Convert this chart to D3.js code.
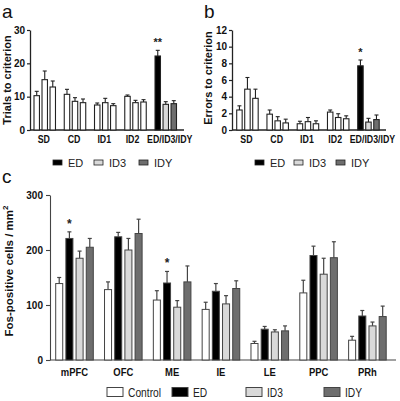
<!DOCTYPE html>
<html><head><meta charset="utf-8">
<script src="https://cdn.jsdelivr.net/npm/d3@7"></script>
<style>body{margin:0;background:#fff}svg{display:block}text{font-family:"Liberation Sans",Arial,sans-serif}</style>
</head><body>
<svg id="chart" width="400" height="401"></svg>
<script>
// ---- data ----
const stagesAB = ["SD", "CD", "ID1", "ID2", "ED/ID3/IDY"];
const trialsMean = [[10.3, 15.1, 12.9], [10.7, 8.6, 8.2], [7.5, 8.2, 7.3], [10.1, 8.2, 8.4], [22.2, 7.7, 7.9]];
const trialsErr  = [[1.3, 2.6, 1.8], [1.5, 1.1, 1.1], [0.6, 1.3, 0.6], [0.4, 0.7, 0.7], [1.7, 0.8, 0.9]];
const errorsMean = [[2.4, 4.9, 3.8], [1.9, 1.1, 0.85], [0.75, 1.0, 0.75], [2.15, 1.5, 1.35], [7.7, 0.95, 1.25]];
const errorsErr  = [[0.5, 1.4, 1.1], [0.5, 0.5, 0.45], [0.3, 0.5, 0.35], [0.25, 0.45, 0.35], [0.7, 0.45, 0.55]];
const trialsTicks = [0, 10, 20, 30];
const errorsTicks = [0, 2, 4, 6, 8, 10, 12];
const legendAB = ["ED", "ID3", "IDY"];

const regions = ["mPFC", "OFC", "ME", "IE", "LE", "PPC", "PRh"];
const groupsC = ["Control", "ED", "ID3", "IDY"];
const fosControl = [139, 128, 109, 92, 30, 122, 36];
const fosED      = [221, 224, 140, 125, 56, 190, 80];
const fosID3     = [185, 200, 96, 102, 51, 156, 62];
const fosIDY     = [205, 230, 142, 130, 53, 186, 79];
const fosControlErr = [11, 14, 17, 13, 4, 23, 7];
const fosEDErr      = [12, 8, 21, 14, 5, 17, 10];
const fosID3Err     = [13, 21, 12, 15, 4, 29, 7];
const fosIDYErr     = [16, 26, 29, 14, 9, 29, 19];
const fosTicks = [0, 100, 200, 300];
const sigC = {"mPFC": "*", "ME": "*"};

// ---- styles ----
const colED = "#000000", colID3 = "#d9d9d9", colIDY = "#6e6e6e", colCtrl = "#ffffff";
const svg = d3.select("#chart");

function sText(g, x, y, txt, size, weight, anchor, sx) {
  return g.append("text").attr("transform", `translate(${x},${y}) scale(${sx},1)`)
    .attr("text-anchor", anchor).attr("font-size", size).attr("font-weight", weight)
    .attr("fill", "#111").text(txt);
}

function panelAB(cfg) {
  const g = svg.append("g");
  const y = d3.scaleLinear().domain(cfg.domain).range([130, 30]);
  const x0 = d3.scaleBand().domain(stagesAB).range([cfg.x0, cfg.x0 + 142.5]).paddingInner(0.29).paddingOuter(0);
  const x1 = d3.scaleBand().domain([0, 1, 2]).range([0, x0.bandwidth()]).paddingInner(0.32);
  const ax = g.append("g").attr("transform", `translate(${cfg.axisX},0)`)
    .call(d3.axisLeft(y).tickValues(cfg.ticks).tickSize(3).tickPadding(2).tickSizeOuter(0));
  ax.select(".domain").attr("stroke", "#222").attr("stroke-width", 1.3);
  ax.selectAll(".tick line").attr("stroke", "#222").attr("stroke-width", 1.2);
  ax.selectAll(".tick text").attr("font-size", 10).attr("font-weight", "bold").attr("fill", "#111");
  g.append("line").attr("x1", cfg.axisX).attr("x2", cfg.axisX + 154).attr("y1", 130).attr("y2", 130)
    .attr("stroke", "#222").attr("stroke-width", 1.3);
  stagesAB.forEach((s, i) => {
    const fills = i === stagesAB.length - 1 ? [colED, colID3, colIDY] : [colCtrl, colCtrl, colCtrl];
    cfg.mean[i].forEach((v, j) => {
      const bx = x0(s) + x1(j), bw = x1.bandwidth();
      const top = y(v), et = y(v + cfg.err[i][j]);
      g.append("line").attr("x1", bx + bw / 2).attr("x2", bx + bw / 2).attr("y1", top).attr("y2", et)
        .attr("stroke", "#222").attr("stroke-width", 1.1);
      g.append("line").attr("x1", bx + bw / 2 - 2).attr("x2", bx + bw / 2 + 2).attr("y1", et).attr("y2", et)
        .attr("stroke", "#222").attr("stroke-width", 1.1);
      g.append("rect").attr("x", bx).attr("y", top).attr("width", bw).attr("height", y(0) - top)
        .attr("fill", fills[j]).attr("stroke", "#222").attr("stroke-width", 1.1);
    });
    const shift = i === 4 ? 4 : (i === 3 ? -3 : -1);
    sText(g, x0(s) + x0.bandwidth() / 2 + shift, 142.5, s, 10, "bold", "middle", 0.88);
  });
  const last = stagesAB[stagesAB.length - 1];
  g.append("text").attr("x", x0(last) + x1(0) + x1.bandwidth() / 2).attr("y", y(cfg.mean[4][0] + cfg.err[4][0]) - 4)
    .attr("text-anchor", "middle").attr("font-size", 11).attr("font-weight", "bold").attr("fill", "#222").text(cfg.sig);
  g.append("text").attr("transform", `translate(${cfg.labelX},${cfg.labelY}) rotate(-90)`)
    .attr("text-anchor", "middle").attr("font-size", 11).attr("font-weight", "bold").attr("fill", "#111").text(cfg.label);
  g.append("text").attr("x", cfg.letterX).attr("y", 18).attr("font-size", 19).attr("fill", "#111").text(cfg.letter);
  const lc = [colED, colID3, colIDY];
  legendAB.forEach((t, k) => {
    const lx = cfg.legX[k];
    g.append("rect").attr("x", lx).attr("y", 160).attr("width", 9).attr("height", 5)
      .attr("fill", lc[k]).attr("stroke", "#222").attr("stroke-width", 0.8);
    g.append("text").attr("x", lx + 15).attr("y", 167).attr("font-size", 11).attr("fill", "#222").text(t);
  });
}

panelAB({domain: [0, 30], ticks: trialsTicks, mean: trialsMean, err: trialsErr, axisX: 30, x0: 34,
  label: "Trials to criterion", labelX: 11, labelY: 80, letter: "a", letterX: 2, sig: "**", legX: [53, 94, 139]});
panelAB({domain: [0, 12], ticks: errorsTicks, mean: errorsMean, err: errorsErr, axisX: 232, x0: 236.7,
  label: "Errors to criterion", labelX: 212, labelY: 78, letter: "b", letterX: 204, sig: "*", legX: [255, 294, 336]});

// ---- panel c ----
(function () {
  const g = svg.append("g");
  const y = d3.scaleLinear().domain([0, 300]).range([360, 195]);
  const x0 = d3.scaleBand().domain(regions).range([55.7, 386.2]).paddingInner(0.23).paddingOuter(0);
  const x1 = d3.scaleBand().domain(groupsC).range([0, x0.bandwidth()]).paddingInner(0.31);
  const means = [fosControl, fosED, fosID3, fosIDY];
  const errs = [fosControlErr, fosEDErr, fosID3Err, fosIDYErr];
  const fills = [colCtrl, colED, colID3, colIDY];
  const ax = g.append("g").attr("transform", "translate(50,0)")
    .call(d3.axisLeft(y).tickValues(fosTicks).tickSize(4).tickPadding(3).tickSizeOuter(0));
  ax.select(".domain").attr("stroke", "#444").attr("stroke-width", 1.1);
  ax.selectAll(".tick line").attr("stroke", "#444").attr("stroke-width", 1.1);
  ax.selectAll(".tick text").attr("font-size", 10).attr("font-weight", "bold").attr("fill", "#111");
  g.append("line").attr("x1", 50).attr("x2", 396).attr("y1", 360).attr("y2", 360).attr("stroke", "#444").attr("stroke-width", 1.1);
  regions.forEach((r, i) => {
    groupsC.forEach((gr, j) => {
      const v = means[j][i], e = errs[j][i];
      const bx = x0(r) + x1(gr), bw = x1.bandwidth();
      const top = y(v), et = y(v + e);
      g.append("line").attr("x1", bx + bw / 2).attr("x2", bx + bw / 2).attr("y1", top).attr("y2", et)
        .attr("stroke", "#444").attr("stroke-width", 1.2);
      g.append("line").attr("x1", bx + bw / 2 - 2).attr("x2", bx + bw / 2 + 2).attr("y1", et).attr("y2", et)
        .attr("stroke", "#444").attr("stroke-width", 1.2);
      g.append("rect").attr("x", bx).attr("y", top).attr("width", bw).attr("height", y(0) - top)
        .attr("fill", fills[j]).attr("stroke", "#444").attr("stroke-width", 1);
    });
    sText(g, x0(r) + x0.bandwidth() / 2, 376, r, 10.5, "bold", "middle", 0.9);
    if (sigC[r]) {
      g.append("text").attr("x", x0(r) + x1("ED") + x1.bandwidth() / 2)
        .attr("y", y(fosED[i] + fosEDErr[i]) - 4).attr("text-anchor", "middle")
        .attr("font-size", 12).attr("font-weight", "bold").attr("fill", "#222").text(sigC[r]);
    }
  });
  const lab = g.append("text").attr("transform", "translate(13,271) rotate(-90)").attr("text-anchor", "middle")
    .attr("font-size", 11.5).attr("font-weight", "bold").attr("fill", "#111");
  lab.append("tspan").text("Fos-positive cells / mm");
  lab.append("tspan").attr("font-size", 8).attr("dy", -5).text("2");
  g.append("text").attr("x", 2).attr("y", 183).attr("font-size", 19).attr("fill", "#111").text("c");
  const legX = [107, 172, 246, 324];
  groupsC.forEach((t, k) => {
    g.append("rect").attr("x", legX[k]).attr("y", 387.5).attr("width", 16).attr("height", 9)
      .attr("fill", fills[k]).attr("stroke", "#444").attr("stroke-width", 1);
    sText(g, legX[k] + 21, 396.5, t, 12.5, "normal", "start", 0.82).attr("fill", "#222");
  });
})();
</script>
</body></html>
